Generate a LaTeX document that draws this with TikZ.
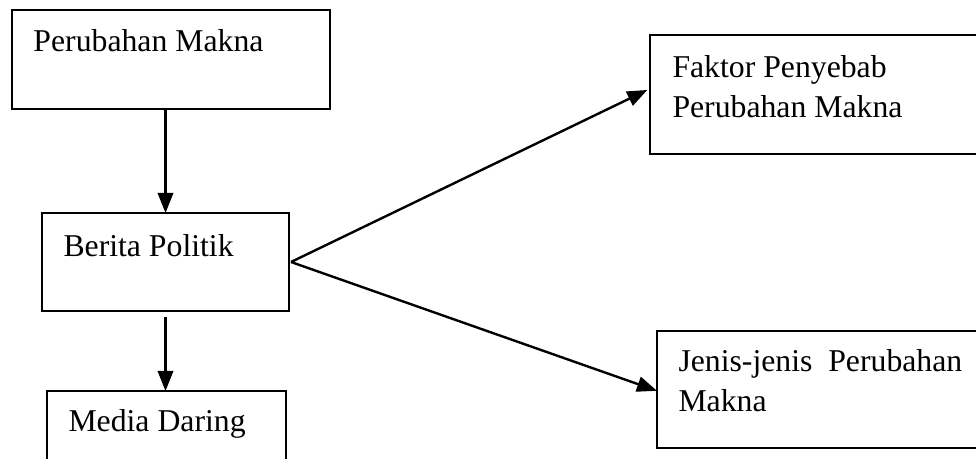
\documentclass[tikz,border=0pt]{standalone}
\usepackage{fontspec}
\setmainfont{Liberation Serif}
\usetikzlibrary{arrows.meta}

\tikzset{every picture/.style={line width=0.75pt}}
\tikzset{
  box/.style={draw, line width=1.5pt, rectangle, inner sep=0pt, outer sep=0pt, anchor=north west},
  txt/.style={anchor=base west, inner sep=0pt, align=left, font=\fontsize{23.8}{30.5}\selectfont},
  arr/.style={line width=1.8pt, -{Triangle[length=15pt,width=11.5pt]}}
}

\begin{document}
\begin{tikzpicture}[x=0.75pt,y=0.75pt,yscale=-1,xscale=1]
        \path[use as bounding box] (0,0) rectangle (976,459);
        \clip (0,0) rectangle (976,459);

        %Shape: Rectangle [Perubahan Makna]
        \node[box, minimum width=238.5pt, minimum height=74.25pt] (b1) at (12,10) {};
        %Shape: Rectangle [Berita Politik]
        \node[box, minimum width=185.25pt, minimum height=73.5pt] (b2) at (42,213) {};
        %Shape: Rectangle [Media Daring]
        \node[box, minimum width=179.25pt, minimum height=66.75pt] (b3) at (47,391) {};
        %Shape: Rectangle [Faktor]
        \node[box, minimum width=270pt, minimum height=89.25pt] (b4) at (650,35) {};
        %Shape: Rectangle [Jenis]
        \node[box, minimum width=270pt, minimum height=87.75pt] (b5) at (657,331) {};

        % Text Node
        \node[txt] (t1) at (33,52) {Perubahan Makna};
        % Text Node
        \node[txt] (t2) at (63,257) {Berita Politik};
        % Text Node
        \node[txt] (t3) at (68,432) {Media Daring};
        % Text Node (base = last line)
        \node[txt] (t4) at (672,118) {Faktor Penyebab\\Perubahan Makna};
        % Text Node
        \node[txt] (t5) at (678,412) {Jenis-jenis\hspace{0.5em}Perubahan\\Makna};

        %Straight Lines
        \draw[arr] (b1.south -| b2.north) -- (b2.north);
        \draw[arr] ([yshift=4.5pt]b2.south) -- (b3.north -| b2.south);
        \draw[arr] ([xshift=1.5pt]b2.east) -- ([xshift=-2pt,yshift=-3.4pt]b4.west);
        \draw[arr] ([xshift=1.5pt]b2.east) -- ([yshift=1pt]b5.west);

    \end{tikzpicture}
\end{document}
